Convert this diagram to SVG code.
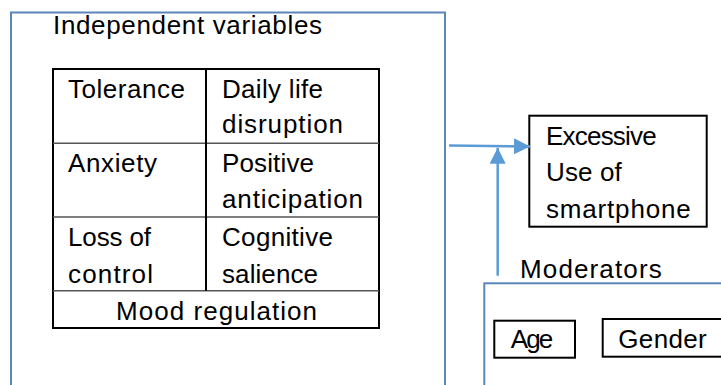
<svg xmlns="http://www.w3.org/2000/svg" width="721" height="385" viewBox="0 0 721 385">
<style>
text{font-family:"Liberation Sans",Arial,sans-serif;font-size:26px;fill:#000}
.frame{fill:none;stroke:#5a86ba;stroke-width:2}
.blk{fill:#fff;stroke:#000;stroke-width:2}
.grid{stroke:#555;stroke-width:1.5}
.conn{stroke:#5b9bd5;stroke-width:2.5;fill:none}
</style>
<defs>
<marker id="ah" viewBox="0 0 16 16" refX="16" refY="8" markerWidth="16" markerHeight="16" markerUnits="userSpaceOnUse" orient="auto">
<path d="M0,0 L16,8 L0,16 Z" fill="#5b9bd5"/>
</marker>
</defs>
<g id="independent">
<rect class="frame" x="11" y="12.5" width="434" height="390"/>
<text x="53" y="34" textLength="269" lengthAdjust="spacing">Independent variables</text>
<g id="table">
<rect class="blk" x="53" y="69" width="326" height="259"/>
<line class="grid" x1="53" y1="143.3" x2="379" y2="143.3"/>
<line class="grid" x1="53" y1="217" x2="379" y2="217"/>
<line class="grid" x1="53" y1="290.7" x2="379" y2="290.7"/>
<line stroke="#000" stroke-width="2" x1="206" y1="69" x2="206" y2="290.7"/>
<text x="68" y="97.7" textLength="117" lengthAdjust="spacing">Tolerance</text>
<text x="222" y="97.7" textLength="101" lengthAdjust="spacing">Daily life</text>
<text x="222" y="133.3" textLength="121" lengthAdjust="spacing">disruption</text>
<text x="68" y="171.7" textLength="89" lengthAdjust="spacing">Anxiety</text>
<text x="222" y="171.7" textLength="92" lengthAdjust="spacing">Positive</text>
<text x="222" y="208.3" textLength="141" lengthAdjust="spacing">anticipation</text>
<text x="68" y="245.7" textLength="83" lengthAdjust="spacing">Loss of</text>
<text x="68" y="282.7" textLength="85" lengthAdjust="spacing">control</text>
<text x="222" y="245.7" textLength="111" lengthAdjust="spacing">Cognitive</text>
<text x="222" y="282.7" textLength="96" lengthAdjust="spacing">salience</text>
<text x="116" y="320" textLength="201" lengthAdjust="spacing">Mood regulation</text>
</g>
</g>
<g id="outcome">
<rect class="blk" x="529.3" y="115.7" width="177.4" height="111"/>
<text x="546" y="145" textLength="110.7" lengthAdjust="spacing">Excessive</text>
<text x="546" y="181" textLength="75.7" lengthAdjust="spacing">Use of</text>
<text x="546" y="217.7" textLength="144.7" lengthAdjust="spacing">smartphone</text>
</g>
<g id="moderators">
<text x="520" y="277.7" textLength="141.7" lengthAdjust="spacing">Moderators</text>
<rect class="frame" x="484.3" y="283.3" width="260" height="130"/>
<g id="age">
<rect class="blk" x="494.3" y="320.7" width="80.7" height="37"/>
<text x="510.7" y="348.3" textLength="42.6" lengthAdjust="spacing">Age</text>
</g>
<g id="gender">
<rect class="blk" x="602.7" y="319" width="130" height="37.7"/>
<text x="618.3" y="348.3" textLength="88.4" lengthAdjust="spacing">Gender</text>
</g>
</g>
<g id="connectors">
<path class="conn" d="M449,145.5 L530,146.5" marker-end="url(#ah)"/>
<path class="conn" d="M497.7,275.7 L497.7,147.7" marker-end="url(#ah)"/>
</g>
</svg>
